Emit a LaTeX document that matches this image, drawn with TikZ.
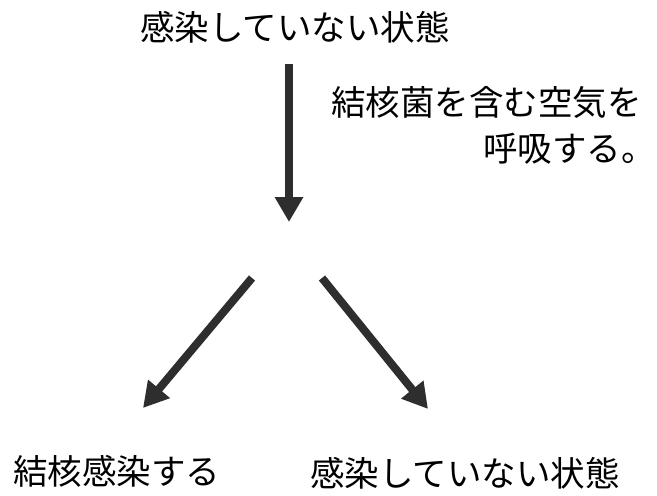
\documentclass[tikz,border=0pt]{standalone}
\usepackage{fontspec}
\setmainfont{Noto Sans CJK JP}
\usetikzlibrary{arrows.meta}
\definecolor{arrowgray}{HTML}{2E2E2E}
\tikzset{
  lbl/.style={anchor=base west, inner sep=0pt, font=\fontsize{34.5pt}{40pt}\selectfont, text=black},
  bigarrow/.style={draw=arrowgray, line width=8pt, -{Triangle[length=25pt,width=27pt]}}
}
\begin{document}
\begin{tikzpicture}[x=1pt,y=-1pt]
\useasboundingbox[fill=white] (0,0) rectangle (657,496);
\node[lbl] (top) at (140,40) {感染していない状態};
\node[lbl] (cond1) at (331,115) {結核菌を含む空気を};
\node[lbl] (cond2) at (483,161) {呼吸する。};
\node[lbl] (left) at (13,484) {結核感染する};
\node[lbl] (right) at (310,486) {感染していない状態};
\coordinate (v1) at (289,64);
\coordinate (v2) at (289,222);
\coordinate (l1) at (252,278);
\coordinate (l2) at (143,408);
\coordinate (r1) at (322,278);
\coordinate (r2) at (428,409);
\draw[bigarrow] (v1) -- (v2);
\draw[bigarrow] (l1) -- (l2);
\draw[bigarrow] (r1) -- (r2);
\end{tikzpicture}
\end{document}
